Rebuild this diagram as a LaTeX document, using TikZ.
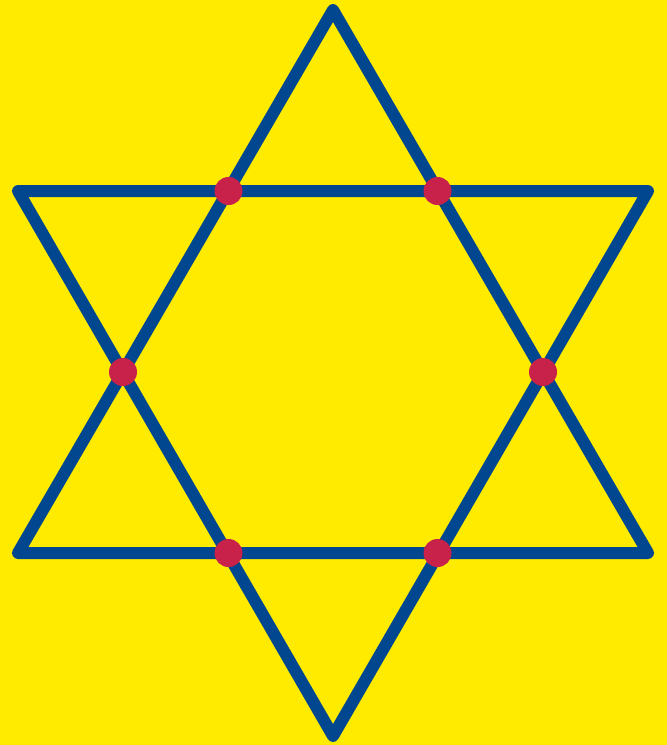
\documentclass[tikz,border=0pt]{standalone}
\definecolor{bg}{HTML}{FFEB00}
\definecolor{starblue}{HTML}{00478F}
\definecolor{dotred}{HTML}{C8224A}
\begin{document}
\begin{tikzpicture}[x=1pt,y=-1pt,
  edge/.style={draw=starblue,line width=12pt,line join=round,line cap=round},
  dot/.style={circle,fill=dotred,minimum size=28pt,inner sep=0pt}]
\fill[bg] (0,0) rectangle (667,745);
\useasboundingbox (0,0) rectangle (667,745);
\coordinate (T) at (333,10);
\coordinate (BL) at (18,553);
\coordinate (BR) at (648,553);
\coordinate (TL) at (18,191);
\coordinate (TR) at (648,191);
\coordinate (B) at (333,736);
\path[edge] (T) -- (BR) -- (BL) -- cycle;
\path[edge] (TL) -- (TR) -- (B) -- cycle;
\node[dot] (d1) at (228.5,191) {};
\node[dot] (d2) at (437.5,191) {};
\node[dot] (d3) at (123,372) {};
\node[dot] (d4) at (543,372) {};
\node[dot] (d5) at (228.5,553) {};
\node[dot] (d6) at (437.5,553) {};
\end{tikzpicture}
\end{document}
